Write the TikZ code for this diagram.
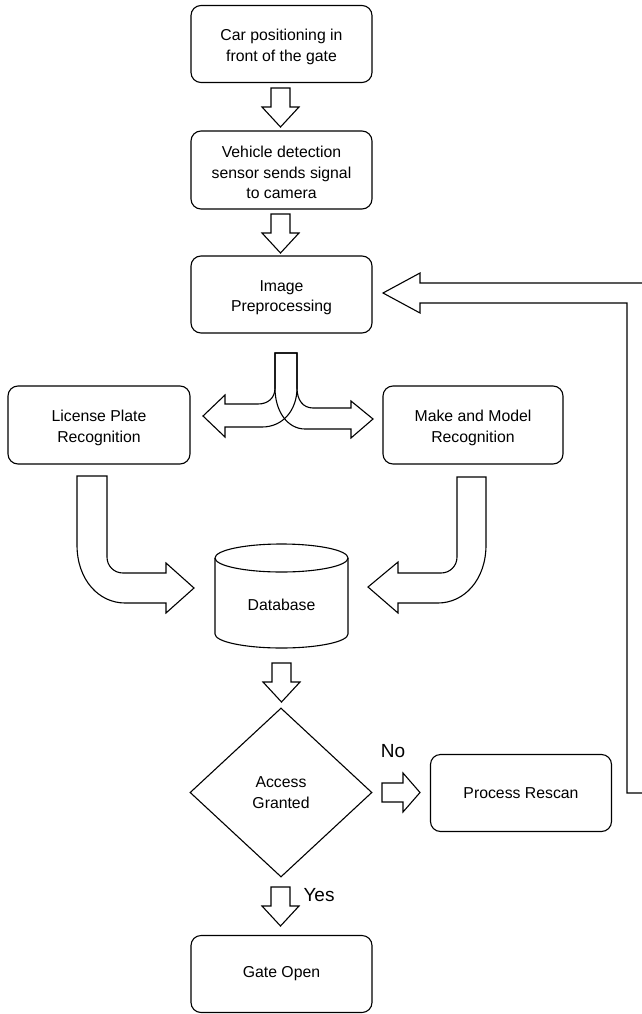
\documentclass[tikz,border=0pt]{standalone}
\usepackage{fontspec}
\setmainfont{Liberation Sans}
\usetikzlibrary{shapes.geometric}
\newcommand\topstrut{\rule{0pt}{17pt}}
\begin{document}
\begin{tikzpicture}[x=1pt,y=-1pt,
  box/.style={draw, rounded corners=10pt, minimum width=181pt, minimum height=77pt,
    align=center, font=\fontsize{15.8}{20.5}\selectfont, line width=1.1pt, inner sep=2pt},
  blk/.style={draw, line width=1.1pt, line join=miter},
  lbl/.style={font=\fontsize{19}{22}\selectfont, inner sep=0pt}]
\useasboundingbox (0,0) rectangle (642,1014);
\clip (0,0) rectangle (642,1014);

% boxes
\node[box] (car) at (281.5,44) {\topstrut Car positioning in\\front of the gate};
\node[box, minimum height=78pt] (sensor) at (281.5,170) {\topstrut Vehicle detection\\sensor sends signal\\to camera};
\node[box] (prep) at (281.5,294.5) {\topstrut Image\\Preprocessing};
\node[box, minimum width=182pt, minimum height=78pt] (lpr) at (99,425) {\topstrut License Plate\\Recognition};
\node[box, minimum width=180pt, minimum height=78pt] (mmr) at (473,425) {\topstrut Make and Model\\Recognition};
\node[box] (rescan) at (521,793) {Process Rescan};
\node[box] (gate) at (281.5,974) {Gate Open};
\node[draw, diamond, minimum width=182pt, minimum height=169pt, inner sep=0pt,
  align=center, font=\fontsize{15.8}{20.5}\selectfont, line width=1.1pt] (access) at (281,792.5) {Access\\Granted};

% database cylinder
\draw[line width=1.1pt] (215,558) -- (215,634) arc[start angle=180, end angle=360, x radius=66.5pt, y radius=14pt] -- (348,558);
\draw[line width=1.1pt] (281.5,558) ellipse[x radius=66.5pt, y radius=14pt];
\node[font=\fontsize{15.8}{20.5}\selectfont] (db) at (281.5,605) {Database};

% straight down block arrows
\newcommand\dnarrow[2]{%
  \draw[blk] (#1-9.5,#2) -- (#1+9.5,#2) -- (#1+9.5,#2+19) -- (#1+18.5,#2+19)
    -- (#1,#2+39) -- (#1-18.5,#2+19) -- (#1-9.5,#2+19) -- cycle;}
\dnarrow{280.5}{88}
\dnarrow{280.5}{214}
\dnarrow{281.5}{663}
\dnarrow{280.5}{887}

% No arrow
\draw[blk] (382,783) -- (403,783) -- (403,773) -- (420,792.5) -- (403,812) -- (403,802) -- (382,802) -- cycle;

% split arrow
\draw[blk] (275,353) -- (275,388) .. controls (275,398) and (268,404) .. (258,404)
  -- (225,404) -- (225,395) -- (203,416) -- (225,437) -- (225,427) -- (262,427)
  .. controls (283,427) and (297,410) .. (297,388) -- (297,353) -- cycle;
\draw[blk] (297,353) -- (297,388) .. controls (297,400) and (303,408) .. (313,408)
  -- (351,408) -- (351,401) -- (373,419) -- (351,438) -- (351,429) -- (305,429)
  .. controls (288,429) and (275,412) .. (275,388) -- (275,353) -- cycle;

% curved arrows into database
\draw[blk] (77,476) -- (107,476) -- (107,557) .. controls (107,566) and (114,573) .. (123,573)
  -- (166,573) -- (166,563) -- (194,588) -- (166,613) -- (166,603) -- (125,603)
  .. controls (99,603) and (77,580) .. (77,545) -- cycle;
\draw[blk] (457,477) -- (486,477) -- (486,545) .. controls (486,580) and (464,603) .. (438,603)
  -- (398,603) -- (398,613) -- (368,587) -- (398,562) -- (398,573) -- (441,573)
  .. controls (450,573) and (457,566) .. (457,557) -- cycle;

% loop arrow back to preprocessing
\draw[blk] (643,283) -- (420,283) -- (420,273) -- (383,293) -- (420,313) -- (420,303)
  -- (627,303) -- (627,793) -- (643,793);

% labels
\node[lbl] (no) at (393,751) {No};
\node[lbl] (yes) at (319,895) {Yes};
\end{tikzpicture}
\end{document}
